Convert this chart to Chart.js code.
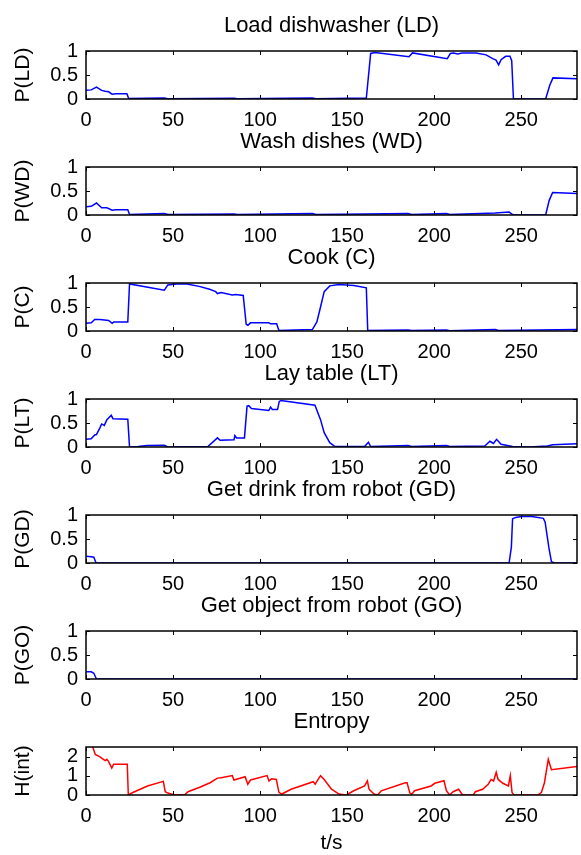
<!DOCTYPE html>
<html>
<head>
<meta charset="utf-8">
<title>Activity probabilities</title>
<script src="https://cdn.jsdelivr.net/npm/chart.js@4.4.1/dist/chart.umd.min.js"></script>
<style>
  html, body { margin: 0; padding: 0; background: #fff; overflow: hidden; }
  #wrap { position: relative; width: 581px; height: 855px; overflow: hidden; }
  #wrap canvas { position: absolute; left: 0; }
</style>
</head>
<body>
<div id="wrap"></div>
<script>
// tick labels
const xTicks = [0, 50, 100, 150, 200, 250];
const probTicks = [0, 0.5, 1];
const entropyTicks = [0, 1, 2];

// Load dishwasher
const ldT = [0, 3, 6, 9, 11, 13, 15, 17, 23.5, 24.5, 45, 47, 85, 87, 130, 132, 161, 163.5, 166, 185.5, 187.5, 207.5, 209.3, 211, 213.5, 216, 224, 229.8, 233.6, 235.5, 237, 238.4, 241, 243.5, 244.5, 245.5, 264, 266.3, 268.2, 282];
const ldP = [0.18, 0.19, 0.25, 0.18, 0.16, 0.15, 0.10, 0.11, 0.11, 0.01, 0.02, 0.005, 0.015, 0.005, 0.02, 0.005, 0.02, 0.95, 0.97, 0.88, 0.96, 0.84, 0.95, 0.96, 0.94, 0.96, 0.96, 0.92, 0.84, 0.81, 0.71, 0.82, 0.89, 0.89, 0.8, 0, 0, 0.28, 0.44, 0.42];

// Wash dishes
const wdT = [0, 3, 6, 9, 12, 15, 17, 24, 25, 45, 47, 85, 87, 130, 132, 160, 185, 187, 207, 209, 235, 243, 245, 246, 264, 266, 268, 282];
const wdP = [0.17, 0.18, 0.25, 0.15, 0.15, 0.10, 0.11, 0.11, 0.01, 0.03, 0.01, 0.02, 0.01, 0.03, 0.01, 0.02, 0.03, 0.01, 0.03, 0.01, 0.04, 0.06, 0.01, 0, 0, 0.3, 0.47, 0.45];

// Cook
const cT = [0, 3, 5, 8, 13, 15, 16, 24, 25, 45, 47, 52, 58, 65, 71, 74.5, 75.5, 77.6, 84, 86, 90.3, 92, 93, 94.5, 105, 106, 109.5, 110.8, 130, 132.6, 134.7, 136.8, 140, 145.3, 153.8, 161, 161.8, 185, 187, 207, 209, 235, 237, 282];
const cP = [0.16, 0.17, 0.24, 0.24, 0.22, 0.16, 0.19, 0.19, 0.98, 0.85, 0.96, 0.98, 0.98, 0.93, 0.87, 0.82, 0.78, 0.80, 0.75, 0.76, 0.74, 0.14, 0.12, 0.17, 0.17, 0.15, 0.15, 0.01, 0.03, 0.19, 0.5, 0.82, 0.94, 0.97, 0.95, 0.90, 0.01, 0.02, 0.01, 0.02, 0.005, 0.03, 0.01, 0.03];

// Lay table
const ltT = [0, 3, 5, 6, 8, 9, 10.5, 12, 14.5, 15.5, 24, 25, 30, 35, 45, 47, 70, 75.5, 77, 85, 85.5, 86.5, 91, 92.5, 93.5, 95, 105, 106, 107, 110, 111, 112, 131.5, 134.7, 136.8, 140, 143, 160, 162.2, 163.5, 175, 185, 187, 207, 209, 229, 232, 234, 235.8, 238.4, 245, 255, 265, 268, 282];
const ltP = [0.16, 0.17, 0.25, 0.26, 0.40, 0.48, 0.45, 0.57, 0.66, 0.59, 0.58, 0, 0.01, 0.03, 0.035, 0, 0.01, 0.19, 0.14, 0.15, 0.24, 0.19, 0.19, 0.85, 0.86, 0.80, 0.76, 0.83, 0.78, 0.78, 0.95, 0.97, 0.87, 0.57, 0.30, 0.09, 0.01, 0.01, 0.10, 0.01, 0.02, 0.03, 0.01, 0.03, 0.01, 0.02, 0.12, 0.075, 0.16, 0.055, 0.01, 0, 0.02, 0.045, 0.07];

// Get drink from robot
const gdT = [0, 3, 4.5, 5.8, 243, 244.3, 245, 246.8, 250, 256, 262.7, 263.7, 265.8, 267.3, 269, 282];
const gdP = [0.14, 0.13, 0.12, 0, 0, 0.33, 0.92, 0.95, 0.97, 0.97, 0.93, 0.85, 0.33, 0.03, 0, 0];

// Get object from robot
const goT = [0, 3, 4.5, 6, 282];
const goP = [0.15, 0.15, 0.12, 0, 0];

// Entropy
const hT = [2, 4, 5.3, 7.8, 10, 11, 12, 13, 14.8, 15.9, 23.7, 24.3, 26.9, 35.3, 44.4, 45.5, 47, 50, 56.5, 58.6, 65, 71.3, 75.5, 77.6, 84, 85, 91.4, 92.9, 94.5, 104, 105.1, 106.6, 109.3, 110.8, 112.5, 117.8, 130.5, 131.6, 134.7, 136.8, 141, 145.3, 149.5, 153.8, 160, 161.6, 162.6, 165.4, 167.5, 169.6, 183.4, 184.4, 186, 187.2, 188.7, 198.2, 200.3, 205.6, 207, 208.8, 210.9, 214, 216.3, 222.5, 223.6, 227.8, 231, 232.7, 234.1, 235.6, 236.7, 239.4, 242.6, 243.7, 244.7, 245.8, 259.5, 261.6, 263.3, 265.5, 267.3, 282];
const hV = [3.0, 2.47, 2.11, 2.0, 1.86, 1.79, 1.86, 1.74, 1.40, 1.60, 1.60, 0, 0.13, 0.47, 0.71, 0.17, 0.10, 0.03, 0, 0.17, 0.39, 0.64, 0.88, 0.90, 1.01, 0.78, 0.95, 0.56, 0.78, 1.01, 0.73, 0.84, 0.81, 0.14, 0.05, 0.30, 0.69, 0.56, 1.01, 0.81, 0.30, 0.05, 0, 0.22, 0.47, 0.73, 0.30, 0.05, 0, 0.22, 0.64, 0.64, 0.10, 0.05, 0.22, 0.47, 0.61, 0.74, 0.22, 0, 0.17, 0.30, 0, 0, 0.17, 0.30, 0.56, 0.81, 0.73, 1.18, 0.81, 0.61, 0.47, 1.01, 0.13, 0, 0, 0.14, 0.64, 1.86, 1.32, 1.49];

const panels = [
  { title: 'Load dishwasher (LD)', label: 'P(LD)', t: ldT, v: ldP, color: '#0000ff', max: 1, ticks: probTicks },
  { title: 'Wash dishes (WD)', label: 'P(WD)', t: wdT, v: wdP, color: '#0000ff', max: 1, ticks: probTicks },
  { title: 'Cook (C)', label: 'P(C)', t: cT, v: cP, color: '#0000ff', max: 1, ticks: probTicks },
  { title: 'Lay table (LT)', label: 'P(LT)', t: ltT, v: ltP, color: '#0000ff', max: 1, ticks: probTicks },
  { title: 'Get drink from robot (GD)', label: 'P(GD)', t: gdT, v: gdP, color: '#0000ff', max: 1, ticks: probTicks },
  { title: 'Get object from robot (GO)', label: 'P(GO)', t: goT, v: goP, color: '#0000ff', max: 1, ticks: probTicks },
  { title: 'Entropy', label: 'H(int)', t: hT, v: hV, color: '#ff0000', max: 2.5, ticks: entropyTicks, xTitle: 't/s' }
];

const FONT = "'Liberation Sans', Arial, Helvetica, sans-serif";
const PLOT_TOP = 51;
const PLOT_H = 48;
const STEP = 116;
const TICK_LEN = 4;

// MATLAB style box with inward ticks on all four sides
const boxPlugin = {
  id: 'box',
  afterDatasetsDraw(chart) {
    const { ctx, chartArea: a, scales: { x, y } } = chart;
    ctx.save();
    ctx.strokeStyle = '#000';
    ctx.lineWidth = 1;
    ctx.beginPath();
    x.ticks.forEach(t => {
      const px = Math.round(x.getPixelForValue(t.value)) + 0.5;
      ctx.moveTo(px, a.bottom); ctx.lineTo(px, a.bottom - TICK_LEN);
      ctx.moveTo(px, a.top); ctx.lineTo(px, a.top + TICK_LEN);
    });
    y.ticks.forEach(t => {
      const py = Math.round(y.getPixelForValue(t.value)) + 0.5;
      ctx.moveTo(a.left, py); ctx.lineTo(a.left + TICK_LEN, py);
      ctx.moveTo(a.right, py); ctx.lineTo(a.right - TICK_LEN, py);
    });
    ctx.stroke();
    ctx.lineWidth = 1.5;
    ctx.strokeRect(a.left, a.top, a.right - a.left, a.bottom - a.top);
    ctx.restore();
  }
};

const wrap = document.getElementById('wrap');

panels.forEach((p, i) => {
  const last = !!p.xTitle;
  const h = last ? 170 : 140;
  const canvas = document.createElement('canvas');
  canvas.width = 581;
  canvas.height = h;
  canvas.style.top = (i * STEP) + 'px';
  canvas.style.width = '581px';
  canvas.style.height = h + 'px';
  wrap.appendChild(canvas);

  new Chart(canvas, {
    type: 'line',
    data: {
      datasets: [{
        data: p.t.map((t, k) => ({ x: t, y: p.v[k] })),
        borderColor: p.color,
        borderWidth: 1.5,
        pointRadius: 0,
        fill: false,
        tension: 0
      }]
    },
    options: {
      responsive: false,
      animation: false,
      devicePixelRatio: 1,
      layout: { padding: { left: 0, right: 4, top: 0, bottom: 0 } },
      plugins: {
        legend: { display: false },
        tooltip: { enabled: false },
        title: {
          display: true,
          text: p.title,
          fullSize: false,
          color: '#000',
          font: { family: FONT, size: 22, weight: 'normal' },
          padding: { top: 12.3, bottom: 12.3 }
        }
      },
      scales: {
        x: {
          type: 'linear',
          min: 0,
          max: 282,
          grid: { display: false, drawTicks: false },
          border: { display: false },
          afterBuildTicks: s => { s.ticks = xTicks.map(v => ({ value: v })); },
          afterFit: s => { s.height = h - (PLOT_TOP + PLOT_H); },
          ticks: {
            color: '#000',
            padding: 9,
            maxRotation: 0,
            autoSkip: false,
            font: { family: FONT, size: 20 }
          },
          title: {
            display: last,
            text: p.xTitle || '',
            color: '#000',
            font: { family: FONT, size: 21 },
            padding: { top: 0, bottom: 9.7 }
          }
        },
        y: {
          min: 0,
          max: p.max,
          grid: { display: false, drawTicks: false },
          border: { display: false },
          afterBuildTicks: s => { s.ticks = p.ticks.map(v => ({ value: v })); },
          afterFit: s => { s.width = 86; },
          ticks: {
            color: '#000',
            padding: 8,
            autoSkip: false,
            callback: v => String(v),
            font: { family: FONT, size: 20 }
          },
          title: {
            display: true,
            text: p.label,
            color: '#000',
            font: { family: FONT, size: 21 },
            padding: { top: 10.7, bottom: 0 }
          }
        }
      }
    },
    plugins: [boxPlugin]
  });
});
</script>
</body>
</html>
